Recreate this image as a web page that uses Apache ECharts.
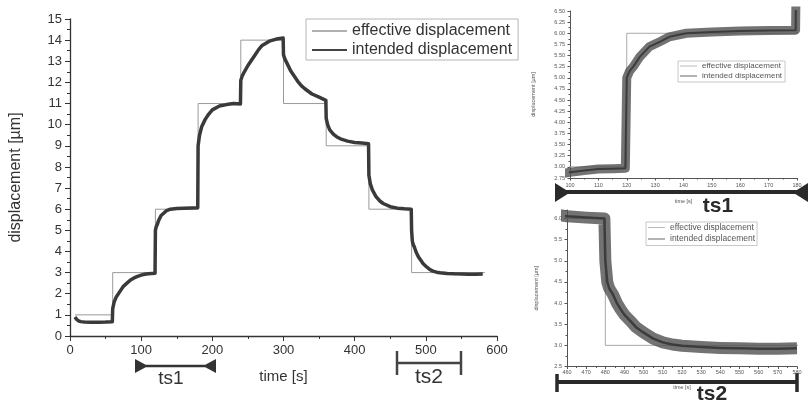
<!DOCTYPE html>
<html><head><meta charset="utf-8">
<script src="https://cdn.jsdelivr.net/npm/echarts@6/dist/echarts.min.js"></script>
<style>html,body{margin:0;padding:0;background:#fff}#c{width:808px;height:402px}</style>
</head><body><div id="c"></div>
<script>
// ---- data ----
const seriesNames = ['effective displacement', 'intended displacement'];
// step line (level held from each time until the next one)
const stepTimes  = [7, 60, 120, 180, 240, 300, 360, 420, 480, 583];
const stepLevels = [1, 3, 6, 11, 14, 11, 9, 6, 3, 3];
// measured (noisy) response, mean curve
const respTimes = [7, 9, 12, 15, 20, 30, 40, 50, 59.5,
  60, 62, 65, 70, 75, 80, 85, 90, 95, 100, 105, 110, 115, 119.5,
  120, 121, 122.3, 124.6, 128, 132, 135, 141, 150, 160, 170, 179.5,
  180, 182, 185, 190, 195, 200, 210, 220, 230, 239.5,
  240, 242, 245, 250, 255, 260, 265, 270, 280, 290, 299.5,
  300, 302, 305, 310, 315, 320, 325, 330, 340, 350, 359.5,
  360, 362, 365, 370, 375, 380, 390, 400, 410, 419.5,
  420, 422, 425, 430, 435, 440, 450, 460, 470, 479.5,
  480, 481, 482, 484, 486, 488, 490, 493, 496, 500, 505, 510, 515, 520, 530, 540, 550, 560, 570, 580];
const respValues = [0.9, 0.8, 0.72, 0.68, 0.66, 0.65, 0.65, 0.66, 0.68,
  1.3, 1.6, 1.85, 2.1, 2.35, 2.5, 2.65, 2.75, 2.82, 2.88, 2.92, 2.95, 2.96, 2.97,
  5.0, 5.15, 5.25, 5.47, 5.7, 5.82, 5.92, 6.0, 6.03, 6.05, 6.06, 6.07,
  9.0, 9.5, 9.9, 10.25, 10.5, 10.7, 10.88, 10.95, 11.0, 10.98,
  12.1, 12.3, 12.5, 12.8, 13.05, 13.3, 13.55, 13.75, 13.95, 14.05, 14.1,
  13.3, 13.1, 12.9, 12.55, 12.3, 12.05, 11.85, 11.7, 11.45, 11.3, 11.15,
  10.3, 10.0, 9.75, 9.55, 9.42, 9.33, 9.22, 9.16, 9.13, 9.1,
  7.6, 7.2, 6.9, 6.6, 6.4, 6.27, 6.12, 6.05, 6.02, 6.0,
  5.0, 4.5, 4.35, 4.2, 4.0, 3.85, 3.72, 3.58, 3.43, 3.3, 3.16, 3.07, 3.02, 2.99, 2.96, 2.94, 2.93, 2.92, 2.92, 2.93];

const FONT = 'Liberation Sans, Arial, Helvetica, sans-serif';
const stepData = stepTimes.map((t, i) => [t, stepLevels[i]]);
const respData = respTimes.map((t, i) => [t, respValues[i]]);

const chart = echarts.init(document.getElementById('c'));

function axisCommon(color, lw, tickLen, minorLen, fs, margin) {
  return {
    axisLine: {show: true, onZero: false, lineStyle: {color: color, width: lw}},
    axisTick: {show: true, length: tickLen, lineStyle: {color: color, width: 1}},
    minorTick: {show: true, splitNumber: 2, length: minorLen, lineStyle: {color: color, width: 1}},
    axisLabel: {fontSize: fs, color: color, margin: margin, fontFamily: FONT},
    splitLine: {show: false}, minorSplitLine: {show: false}
  };
}

const option = {
  animation: false,
  backgroundColor: '#fff',
  grid: [
    {left: 68, top: 19, width: 429, height: 317},
    {left: 570, top: 11, width: 227, height: 167},
    {left: 567, top: 210, width: 230, height: 156.5}
  ],
  xAxis: [
    Object.assign({gridIndex: 0, type: 'value', min: 0, max: 600, interval: 100,
      name: 'time [s]', nameLocation: 'middle', nameGap: 33,
      nameTextStyle: {fontSize: 15, color: '#333', fontFamily: FONT}},
      axisCommon('#333', 1.3, 5, 3, 13, 8)),
    Object.assign({gridIndex: 1, type: 'value', min: 100, max: 180, interval: 10,
      name: 'time [s]', nameLocation: 'middle', nameGap: 20,
      nameTextStyle: {fontSize: 5.5, color: '#555', fontFamily: FONT}},
      axisCommon('#555', 1, 2.5, 1.5, 5.5, 4)),
    Object.assign({gridIndex: 2, type: 'value', min: 460, max: 580, interval: 10,
      name: 'time [s]', nameLocation: 'middle', nameGap: 18,
      nameTextStyle: {fontSize: 5.5, color: '#555', fontFamily: FONT}},
      axisCommon('#555', 1, 2.5, 1.5, 5.5, 3))
  ],
  yAxis: [
    Object.assign({gridIndex: 0, type: 'value', min: 0, max: 15, interval: 1,
      name: 'displacement [µm]', nameLocation: 'middle', nameGap: 46,
      nameTextStyle: {fontSize: 16, color: '#333', fontFamily: FONT}},
      axisCommon('#333', 1.3, 5, 3, 13, 8)),
    (function () {
      const a = Object.assign({gridIndex: 1, type: 'value', min: 2.75, max: 6.5, interval: 0.25,
        name: 'displacement [µm]', nameLocation: 'middle', nameGap: 34,
        nameTextStyle: {fontSize: 5.5, color: '#555', fontFamily: FONT}},
        axisCommon('#555', 1, 2.5, 1.5, 5.5, 5));
      a.axisLabel.formatter = v => v.toFixed(2);
      return a;
    })(),
    (function () {
      const a = Object.assign({gridIndex: 2, type: 'value', min: 2.5, max: 6.2, interval: 0.5,
        name: 'displacement [µm]', nameLocation: 'middle', nameGap: 28,
        nameTextStyle: {fontSize: 5.5, color: '#555', fontFamily: FONT}},
        axisCommon('#555', 1, 2.5, 1.5, 5.5, 5));
      a.axisLabel.formatter = v => v.toFixed(1);
      a.axisLabel.showMaxLabel = false;
      return a;
    })()
  ],
  legend: [
    {left: 306, top: 19, orient: 'vertical', borderColor: '#b5b5b5', borderWidth: 1,
     padding: [4, 6, 2, 6], itemWidth: 35, itemHeight: 2, itemGap: 3, itemTextGap: 4,
     textStyle: {fontSize: 16, color: '#333', fontFamily: FONT, lineHeight: 16},
     selectedMode: false,
     data: [{name: seriesNames[0], icon: 'rect', itemStyle: {color: '#b0b0b0'}},
            {name: seriesNames[1], icon: 'rect', itemStyle: {color: '#444'}}]},
    {left: 678, top: 61, orient: 'vertical', borderColor: '#c8c8c8', borderWidth: 1,
     padding: [1, 3, 2, 2], itemWidth: 17, itemHeight: 1, itemGap: 2, itemTextGap: 4,
     textStyle: {fontSize: 8, color: '#555', fontFamily: FONT, lineHeight: 8},
     selectedMode: false,
     data: [{name: seriesNames[0], icon: 'rect', itemStyle: {color: '#bbb'}},
            {name: seriesNames[1], icon: 'rect', itemStyle: {color: '#666'}}]},
    {left: 646, top: 222, orient: 'vertical', borderColor: '#c8c8c8', borderWidth: 1,
     padding: [1, 2, 2, 2], itemWidth: 17, itemHeight: 1, itemGap: 2.5, itemTextGap: 3,
     textStyle: {fontSize: 8.5, color: '#555', fontFamily: FONT, lineHeight: 8.5},
     selectedMode: false,
     data: [{name: seriesNames[0], icon: 'rect', itemStyle: {color: '#bbb'}},
            {name: seriesNames[1], icon: 'rect', itemStyle: {color: '#666'}}]}
  ],
  series: [
    {name: seriesNames[0], type: 'line', xAxisIndex: 0, yAxisIndex: 0, data: stepData, step: 'end',
     symbol: 'none', lineStyle: {color: '#9a9a9a', width: 1}, itemStyle: {color: '#9a9a9a'}, z: 2},
    {name: seriesNames[1], type: 'line', xAxisIndex: 0, yAxisIndex: 0, data: respData,
     symbol: 'none', lineStyle: {color: '#3a3a3a', width: 3.5, join: 'round'}, itemStyle: {color: '#3a3a3a'}, z: 3},

    {name: seriesNames[0], type: 'line', xAxisIndex: 1, yAxisIndex: 1, data: stepData, step: 'end',
     symbol: 'none', lineStyle: {color: '#a8a8a8', width: 1}, z: 2},
    {name: seriesNames[1], type: 'line', xAxisIndex: 1, yAxisIndex: 1, data: respData,
     symbol: 'none', lineStyle: {color: 'rgba(80,80,80,0.8)', width: 9, join: 'round'}, z: 3},
    {type: 'line', xAxisIndex: 1, yAxisIndex: 1, data: respData,
     symbol: 'none', lineStyle: {color: '#3c3c3c', width: 2, join: 'round'}, z: 4},

    {name: seriesNames[0], type: 'line', xAxisIndex: 2, yAxisIndex: 2, data: stepData, step: 'end',
     symbol: 'none', lineStyle: {color: '#a8a8a8', width: 1}, z: 2},
    {name: seriesNames[1], type: 'line', xAxisIndex: 2, yAxisIndex: 2, data: respData,
     symbol: 'none', lineStyle: {color: 'rgba(80,80,80,0.8)', width: 12, join: 'round'}, z: 3},
    {type: 'line', xAxisIndex: 2, yAxisIndex: 2, data: respData,
     symbol: 'none', lineStyle: {color: '#3c3c3c', width: 2.5, join: 'round'}, z: 4}
  ],
  graphic: {elements: [
    // main ts1 marker
    {type: 'line', shape: {x1: 146, y1: 366, x2: 205, y2: 366}, style: {stroke: '#333', lineWidth: 2.5}},
    {type: 'polygon', shape: {points: [[135, 359], [135, 373], [148, 366]]}, style: {fill: '#333'}},
    {type: 'polygon', shape: {points: [[216, 359], [216, 373], [203, 366]]}, style: {fill: '#333'}},
    {type: 'text', x: 171, y: 379, style: {text: 'ts1', fontSize: 19, fontFamily: FONT, fill: '#333', align: 'center', verticalAlign: 'middle'}},
    // main ts2 marker
    {type: 'line', shape: {x1: 397, y1: 363, x2: 461, y2: 363}, style: {stroke: '#444', lineWidth: 2.5}},
    {type: 'line', shape: {x1: 397, y1: 351, x2: 397, y2: 375}, style: {stroke: '#444', lineWidth: 2.5}},
    {type: 'line', shape: {x1: 461, y1: 351, x2: 461, y2: 375}, style: {stroke: '#444', lineWidth: 2.5}},
    {type: 'text', x: 429, y: 377, style: {text: 'ts2', fontSize: 21, fontFamily: FONT, fill: '#333', align: 'center', verticalAlign: 'middle'}},
    // inset ts1 bar
    {type: 'line', shape: {x1: 565, y1: 192, x2: 798, y2: 192}, style: {stroke: '#2a2a2a', lineWidth: 4}},
    {type: 'polygon', shape: {points: [[555, 183], [555, 202], [570, 192.5]]}, style: {fill: '#2a2a2a'}},
    {type: 'polygon', shape: {points: [[808, 183], [808, 202], [793, 192.5]]}, style: {fill: '#2a2a2a'}},
    {type: 'text', x: 718, y: 206, style: {text: 'ts1', fontSize: 21, fontWeight: 'bold', fontFamily: FONT, fill: '#2a2a2a', align: 'center', verticalAlign: 'middle'}},
    // inset ts2 bar
    {type: 'line', shape: {x1: 557, y1: 382, x2: 797, y2: 382}, style: {stroke: '#2a2a2a', lineWidth: 4}},
    {type: 'line', shape: {x1: 557, y1: 374, x2: 557, y2: 392}, style: {stroke: '#2a2a2a', lineWidth: 3.5}},
    {type: 'line', shape: {x1: 797, y1: 373, x2: 797, y2: 392}, style: {stroke: '#2a2a2a', lineWidth: 3.5}},
    {type: 'text', x: 712, y: 394, style: {text: 'ts2', fontSize: 21, fontWeight: 'bold', fontFamily: FONT, fill: '#2a2a2a', align: 'center', verticalAlign: 'middle'}}
  ]}
};
chart.setOption(option);
</script>
</body></html>
